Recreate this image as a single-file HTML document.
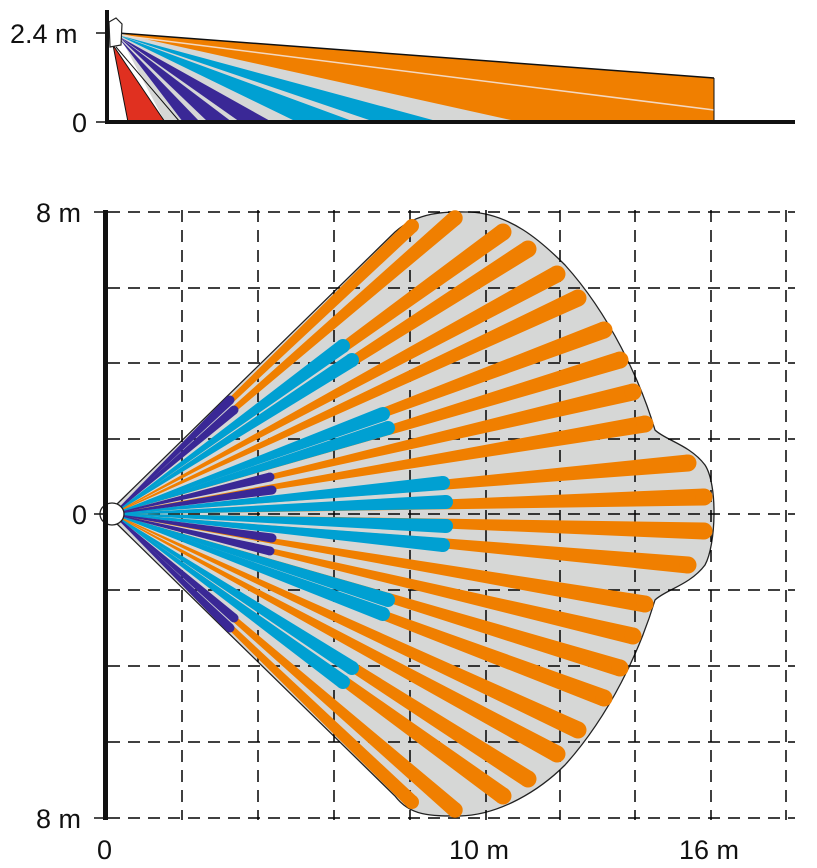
<!DOCTYPE html>
<html><head><meta charset="utf-8"><style>
html,body{margin:0;padding:0;background:#fff;}
svg{display:block;}
text{font-family:"Liberation Sans",sans-serif;font-size:27px;fill:#111;}
</style></head><body>
<svg id="s" width="817" height="868" viewBox="0 0 817 868" xmlns="http://www.w3.org/2000/svg">
<polygon points="118,33 714,78 714,122 165,122" fill="#d6d7d6"/>
<polygon points="118,33 714,78 714,122 520,122" fill="#f07f00"/>
<line x1="118" y1="35" x2="714" y2="110" stroke="#f4d8c0" stroke-width="1.5"/>
<polygon points="118,35 440,122 375,122" fill="#00a0d2"/>
<polygon points="118,35 355,122 297,122" fill="#00a0d2"/>
<polygon points="118,36 272,122 240,122" fill="#3a2896"/>
<polygon points="118,36 232,122 208,122" fill="#3a2896"/>
<polygon points="118,37 200,122 183,122" fill="#3a2896"/>
<polygon points="113,45 165,122 128,122" fill="#e03020" stroke="#111" stroke-width="1"/>
<line x1="118" y1="33" x2="714" y2="78" stroke="#111" stroke-width="1.5"/>
<line x1="714" y1="78" x2="714" y2="122" stroke="#111" stroke-width="1"/>
<line x1="116" y1="47" x2="180" y2="122" stroke="#111" stroke-width="1"/>
<polygon points="109,22 116,18 122,24 121,45 110,47" fill="#fff" stroke="#222" stroke-width="1.2"/>
<rect x="105" y="10" width="4" height="114" fill="#111"/>
<rect x="105" y="120" width="690" height="4" fill="#111"/>
<line x1="96" y1="33" x2="105" y2="33" stroke="#111" stroke-width="1.5"/>
<line x1="96" y1="122" x2="105" y2="122" stroke="#111" stroke-width="1.5"/>
<text x="10" y="43">2.4 m</text>
<text x="72" y="132">0</text>
<path d="M115,506 L395,232 C420,210 450,212 470,212 C510,214 540,240 565,265 C610,315 640,380 655,430 C665,440 690,445 705,465 C718,485 716,545 705,565 C690,585 665,590 655,600 C640,650 610,715 565,765 C540,790 500,815 460,816 C430,816 410,816 395,796 L115,522 Z" fill="#d6d7d6" stroke="#222" stroke-width="1.3"/>
<g id="grid2"></g>
<g id="beams"></g>
<ellipse cx="112" cy="514" rx="12" ry="11" fill="#fff" stroke="#222" stroke-width="1.3"/>
<rect x="103" y="210" width="5" height="610" fill="#111"/>
<line x1="94" y1="212" x2="103" y2="212" stroke="#111" stroke-width="1.5"/>
<line x1="94" y1="514" x2="103" y2="514" stroke="#111" stroke-width="1.5"/>
<line x1="94" y1="818" x2="103" y2="818" stroke="#111" stroke-width="1.5"/>
<text x="36" y="222">8 m</text>
<text x="72" y="524">0</text>
<text x="36" y="828">8 m</text>
<text x="97" y="859">0</text>
<text x="449" y="859">10 m</text>
<text x="679" y="859">16 m</text>
</svg>
<script>
var NS="http://www.w3.org/2000/svg";
function el(p,t,a){var e=document.createElementNS(NS,t);for(var k in a)e.setAttribute(k,a[k]);p.appendChild(e);return e;}
var g=document.getElementById('grid2');
var xs=[182,258,334,410,486,560,635,711,786], ys=[212,288,363,439,590,666,742,818];
xs.forEach(function(x){el(g,'line',{x1:x,y1:210,x2:x,y2:820,stroke:'#000','stroke-width':1.5,'stroke-dasharray':'12,8'});});
ys.forEach(function(y){el(g,'line',{x1:108,y1:y,x2:795,y2:y,stroke:'#000','stroke-width':1.5,'stroke-dasharray':'12,8'});});
el(g,'line',{x1:108,y1:514,x2:795,y2:514,stroke:'#000','stroke-width':1.5,'stroke-dasharray':'12,8'});
var b=document.getElementById('beams');
var O=[113,514];
function beam(E,w,c){
 var dx=E[0]-O[0],dy=E[1]-O[1],L=Math.sqrt(dx*dx+dy*dy),nx=-dy/L,ny=dx/L;
 var p=[[O[0]+nx*0.3,O[1]+ny*0.3],[E[0]+nx*w,E[1]+ny*w],[E[0]-nx*w,E[1]-ny*w],[O[0]-nx*0.3,O[1]-ny*0.3]];
 el(b,'polygon',{points:p.map(function(q){return q.join(',')}).join(' '),fill:c});
 el(b,'circle',{cx:E[0],cy:E[1],r:w,fill:c});
}
var OR='#f07f00',BL='#00a0d2',PU='#3a2896';
var oe=[[412,226],[455,218],[503,232],[528,249],[557,274],[578,298],[604,330],[620,360],[633,392],[645,424],[688,463],[704,497]];
oe.forEach(function(e){var w=Math.min(8.5,2+(e[0]-113)/60);beam(e,w,OR);beam([e[0],1028-e[1]],w,OR);});
var be=[[343,346],[352,360],[383,414],[388,428],[443,483],[446,502]];
be.forEach(function(e){beam(e,7,BL);beam([e[0],1028-e[1]],7,BL);});
var pe=[[230,400],[234,410],[270,477],[272,490]];
pe.forEach(function(e){beam(e,4.5,PU);beam([e[0],1028-e[1]],4.5,PU);});
</script>
</body></html>
